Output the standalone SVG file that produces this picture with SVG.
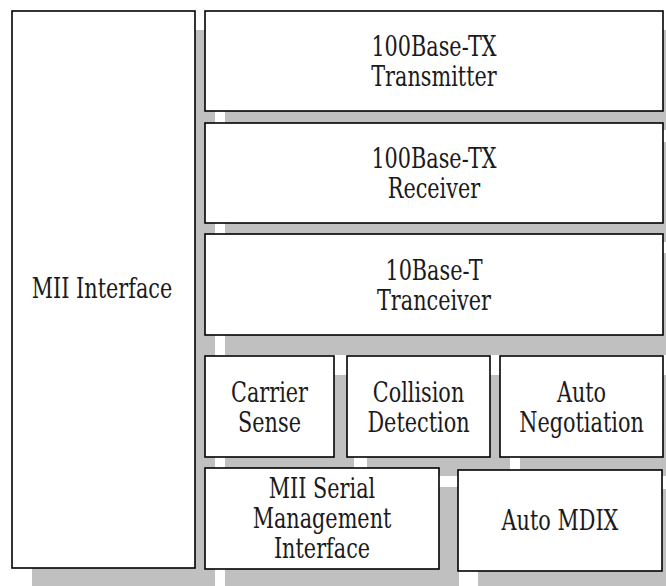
<svg xmlns="http://www.w3.org/2000/svg" width="666" height="586" viewBox="0 0 666 586">
<style>
.sh{fill:#c0c0c0}
.box{fill:#fff;stroke:#000;stroke-width:1.6}
text{font-family:'DejaVu Serif',serif;font-size:27px;fill:#1a1a1a;text-anchor:middle}
</style>
<rect width="666" height="586" fill="#fff"/>
<g id="shadows">
<rect class="sh" x="32" y="30" width="183" height="557"/>
<rect class="sh" x="225" y="30" width="458" height="100"/>
<rect class="sh" x="225" y="142" width="458" height="100"/>
<rect class="sh" x="225" y="253" width="458" height="102"/>
<rect class="sh" x="225" y="375" width="129" height="101"/>
<rect class="sh" x="367" y="375" width="143" height="101"/>
<rect class="sh" x="520" y="375" width="163" height="101"/>
<rect class="sh" x="225" y="487" width="234" height="101"/>
<rect class="sh" x="478" y="489" width="204" height="101"/>
</g>
<g id="mii">
<rect class="box" x="12" y="11" width="183" height="557"/>
<text transform="translate(102,298) scale(0.77,1)">MII Interface</text>
</g>
<g id="tx">
<rect class="box" x="205" y="11" width="458" height="100"/>
<text transform="translate(434,56) scale(0.77,1)"><tspan x="0" y="0">100Base-TX</tspan><tspan x="0" y="30.5">Transmitter</tspan></text>
</g>
<g id="rx">
<rect class="box" x="205" y="123" width="458" height="100"/>
<text transform="translate(434,168) scale(0.77,1)"><tspan x="0" y="0">100Base-TX</tspan><tspan x="0" y="30.5">Receiver</tspan></text>
</g>
<g id="tenbase">
<rect class="box" x="205" y="234" width="458" height="101"/>
<text transform="translate(434,279.5) scale(0.77,1)"><tspan x="0" y="0">10Base-T</tspan><tspan x="0" y="30.5">Tranceiver</tspan></text>
</g>
<g id="carrier">
<rect class="box" x="205" y="356" width="129" height="101"/>
<text transform="translate(269.5,401.5) scale(0.77,1)"><tspan x="0" y="0">Carrier</tspan><tspan x="0" y="30.5">Sense</tspan></text>
</g>
<g id="collision">
<rect class="box" x="347" y="356" width="143" height="101"/>
<text transform="translate(418.5,401.5) scale(0.77,1)"><tspan x="0" y="0">Collision</tspan><tspan x="0" y="30.5">Detection</tspan></text>
</g>
<g id="autoneg">
<rect class="box" x="500" y="356" width="163" height="101"/>
<text transform="translate(581.5,401.5) scale(0.77,1)"><tspan x="0" y="0">Auto</tspan><tspan x="0" y="30.5">Negotiation</tspan></text>
</g>
<g id="serial">
<rect class="box" x="205" y="468" width="234" height="101"/>
<text transform="translate(322,498) scale(0.77,1)"><tspan x="0" y="0">MII Serial</tspan><tspan x="0" y="30">Management</tspan><tspan x="0" y="60">Interface</tspan></text>
</g>
<g id="mdix">
<rect class="box" x="458" y="470" width="204" height="101"/>
<text transform="translate(560,530) scale(0.77,1)">Auto MDIX</text>
</g>
</svg>
